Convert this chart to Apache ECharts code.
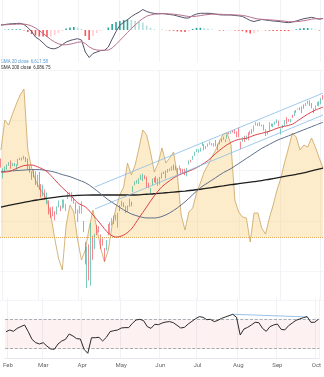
<!DOCTYPE html>
<html><head><meta charset="utf-8">
<script src="https://cdn.jsdelivr.net/npm/echarts@6/dist/echarts.min.js"></script>
<style>html,body{margin:0;padding:0;background:#fff}#c{width:324px;height:377px}</style>
</head><body><div id="c"></div>
<script>
// ---- categories: trading days ----
const holidays=['2025-02-17','2025-04-18','2025-05-26','2025-06-19','2025-07-04','2025-09-01'];
const dates=[];
for(let t=Date.UTC(2025,0,31);t<=Date.UTC(2025,9,2);t+=86400000){
  const d=new Date(t),wd=d.getUTCDay(),s=d.toISOString().slice(0,10);
  if(wd===0||wd===6||holidays.includes(s))continue;dates.push(s);
}
const monthNames=['Jan','Feb','Mar','Apr','May','Jun','Jul','Aug','Sep','Oct','Nov','Dec'];

// ---- price candles ----
const open=[6081,5969,5990,6020,6072,6083,6047,6050,6026,6060,6115,6122,6117,6134,6115,6027,5983,5971,5981,5857,
5968,5812,5782,5785,5726,5705,5604,5624,5595,5564,5635,5653,5632,5646,5631,5718,5771,5771,5696,5679,5528,
5597,5580,5492,5293,4953,5194,4966,5353,5256,5441,5411,5335,5306,5232,5207,5395,5381,5489,5529,5509,5499,
5626,5645,5655,5605,5615,5663,5680,5808,5854,5881,5869,5930,5903,5945,5915,5842,5781,5855,5926,5940,5903,
5896,5939,5978,5985,5987,6004,6010,6049,6009,6000,6005,6013,5988,6005,5970,6062,6105,6114,6151,6194,
6187,6194,6249,6259,6237,6243,6266,6256,6255,6295,6249,6264,6308,6305,6307,6327,6367,6370,6397,6404,6374,6427,
6271,6287,6337,6309,6375,6356,6389,6397,6461,6455,6478,6445,6450,6410,6389,6386,6458,6438,6458,6487,6495,
6401,6445,6457,6531,6499,6497,6547,6546,6592,6604,6623,6609,6642,6649,6661,6696,6669,6611,6614,6661,6658,
6665,6732];
const high=[6120,6022,6042,6062,6084,6101,6073,6076,6063,6116,6127,6130,6147,6134,6120,6044,5993,6010,5994,5959,
5987,5866,5860,5812,5783,5705,5636,5642,5598,5645,5704,5653,5715,5711,5670,5775,5786,5784,5732,5685,5615,
5651,5695,5500,5293,5246,5268,5482,5353,5374,5460,5450,5367,5328,5232,5310,5470,5489,5528,5554,5563,5581,
5658,5700,5684,5649,5654,5721,5691,5845,5893,5906,5924,5959,5969,5954,5939,5878,5829,5922,5930,5944,5923,
5937,5981,5990,5999,6016,6022,6043,6060,6046,6026,6051,6024,6018,6019,6026,6101,6108,6146,6187,6215,
6211,6228,6285,6262,6243,6269,6291,6273,6272,6303,6267,6299,6316,6336,6310,6359,6381,6390,6402,6410,6389,6428,
6288,6330,6345,6349,6380,6395,6410,6447,6481,6473,6481,6457,6457,6410,6393,6481,6467,6466,6486,6508,6495,
6417,6454,6502,6532,6512,6513,6555,6593,6601,6617,6627,6638,6657,6672,6694,6697,6670,6616,6647,6680,6689,
6718,6750];
const low=[6030,5923,5985,6007,6047,6019,6045,6043,6004,6051,6104,6100,6111,6085,6008,5978,5909,5932,5858,5838,
5810,5733,5744,5711,5667,5565,5529,5547,5505,5564,5633,5597,5622,5632,5598,5718,5764,5695,5671,5572,5489,
5574,5572,5391,5069,4835,4910,4857,5115,5221,5359,5387,5221,5255,5102,5207,5359,5371,5455,5468,5505,5434,
5597,5645,5637,5579,5589,5640,5646,5786,5853,5871,5867,5907,5895,5915,5830,5826,5768,5854,5883,5875,5849,
5862,5921,5966,5921,5979,5995,6000,6003,6004,5963,6005,5970,5972,5953,5943,6059,6081,6107,6146,6183,
6177,6188,6245,6202,6215,6235,6257,6249,6238,6241,6201,6260,6282,6304,6282,6318,6361,6365,6376,6365,6330,6332,
6212,6287,6285,6303,6299,6356,6364,6386,6447,6441,6442,6436,6398,6343,6360,6385,6439,6430,6455,6470,6441,
6360,6419,6445,6460,6484,6477,6522,6540,6573,6604,6599,6570,6613,6640,6656,6641,6618,6570,6603,6642,6638,
6657,6703];
const close=[6041,5995,6038,6062,6084,6026,6066,6069,6052,6115,6115,6130,6144,6118,6013,5983,5955,5956,5862,5955,
5850,5778,5843,5739,5770,5615,5572,5599,5522,5639,5675,5615,5675,5663,5668,5768,5777,5712,5693,5581,5612,
5633,5671,5397,5074,5062,4983,5457,5268,5363,5406,5397,5276,5283,5158,5288,5376,5485,5525,5529,5561,5569,
5604,5687,5650,5607,5631,5664,5660,5844,5887,5893,5917,5958,5964,5941,5845,5842,5803,5922,5889,5912,5912,
5936,5970,5971,5939,6000,6006,6039,6022,6045,5977,6033,5983,5981,5968,6025,6092,6092,6141,6173,6205,
6198,6227,6279,6230,6226,6263,6280,6260,6269,6244,6264,6297,6297,6306,6310,6359,6363,6389,6390,6371,6363,6339,
6238,6330,6299,6345,6340,6389,6374,6446,6467,6469,6450,6449,6411,6396,6370,6467,6439,6466,6481,6502,6460,
6416,6448,6502,6482,6495,6513,6532,6588,6584,6615,6607,6600,6632,6664,6694,6657,6638,6605,6644,6661,6689,
6711,6715];

// ---- moving averages (every 4th session) ----
const ma20=[5985,5990,6020,6050,6055,6030,5990,5910,5830,5760,5680,5640,5560,5470,5380,5340,5360,5420,5530,5640,
5750,5840,5900,5950,5980,6010,6050,6100,6170,6230,6280,6310,6320,6350,6370,6390,6420,6440,6460,6510,6560,6600,6630];
const ma50=[5990,5995,6000,6005,6010,6010,6000,5985,5960,5940,5910,5880,5830,5770,5710,5660,5610,5570,5545,5530,
5530,5545,5580,5630,5690,5760,5830,5880,5930,5980,6020,6070,6120,6170,6220,6260,6300,6330,6360,6390,6420,6450,6480];
const ma200=[5638,5654,5670,5685,5700,5712,5724,5735,5745,5750,5754,5757,5758,5758,5758,5758,5758,5758,5760,5765,
5770,5777,5783,5790,5797,5805,5815,5826,5837,5848,5860,5870,5880,5890,5900,5914,5928,5942,5956,5969,5987,6006,6025];
// channel trend lines: [session index, price]
const chanUpper=[[49,5837],[168,6769]];
const chanLower=[[49,5619],[168,6551]];

// ---- oscillator overlay (every 2nd session) ----
const osc=[87,117,112,123,133,142,148,87,69,57,49,44,37,22,-1,-21,-33,12,32,25,-3,-23,-13,9,27,9,-11,-25,-13,12,
29,42,50,74,62,72,89,107,102,85,65,74,89,74,79,85,62,22,7,25,29,44,54,65,72,80,87,96,103,104,
92,37,25,20,19,-5,24,24,9,3,19,32,47,59,75,89,104,100,87,92,90,99,90,79,69];

// ---- MACD (every 2nd session) ----
const macd=[5,5.5,6,6.3,6.5,6.7,5.5,2.5,-1.5,-7,-9.5,-13,-16.7,-18.5,-18.8,-17.3,-14.7,-12,-10.5,-9.5,
-8.7,-10,-22,-27.5,-23.5,-22,-20.6,-20.3,-17,-9,-1.5,4.7,7.7,10.3,13.3,15.8,17.8,20.5,18.5,17.3,
16.6,16.2,16.5,16,15.5,15,14,13,12,12,14.5,16,16.7,16.7,16.7,16.5,15.8,15.2,15,15,
15,14.5,14.2,13.5,11.5,9.5,8.5,9.5,10.5,10,9.5,9,8.7,8.2,7.7,7.3,8,9,10.2,11.3,12,12.7,11.8,10.8,11.5];
const signal=[5,5.2,5.4,5.6,5.8,5.9,5.9,5.3,4,2,-0.5,-3.5,-6.5,-9.5,-12,-13.8,-14.8,-14.8,-14.2,-13.3,
-12.3,-11.8,-13.5,-16.8,-19,-20,-20.3,-20.3,-20,-18,-14.5,-10.5,-6.5,-2.5,1.5,5,8.5,11.5,13.8,15,
15.8,16.2,16.3,16.3,16.1,15.8,15.4,14.8,14.1,13.5,13.4,13.8,14.4,15,15.5,15.8,15.9,15.8,15.6,15.4,
15.3,15.1,14.9,14.6,13.9,12.9,11.8,11,10.7,10.5,10.2,9.9,9.6,9.2,8.8,8.4,8.2,8.3,8.7,9.3,10,10.8,11.2,11.3,11.4];
const hist=[0,0.3,0.6,0.7,0.7,0.8,-0.4,-2,-4,-5.5,-6.5,-6.5,-7,-6.5,-5,-3,-1,1.5,2.5,3,
2.5,1,-6,-10,-6,-3,-1,0,2.5,6,8,9,10,10.5,10,9,8,7.5,4.5,2.3,
0.8,0,0.2,-0.3,-0.6,-0.8,-1.4,-1.8,-2,-1.5,1,2.2,2.3,1.7,1.2,0.7,0,-0.6,-0.6,-0.4,
-0.3,-0.6,-0.7,-1.1,-2.4,-3.4,-3.3,-1.5,-0.2,-0.5,-0.7,-0.9,-0.9,-1,-1.1,-1.1,-0.2,0.7,1.5,2,2,1.9,0.6,-0.5,0.1];

// ---- RSI (every 2nd session) ----
const rsi=[53.4,55.7,53.9,58,60.4,62.7,53.4,42.8,38.2,36.4,38.2,33.6,29.5,29,36.4,40.5,42.8,50.2,47.5,43.8,
43.3,29,23.5,45,45.1,45.6,40.5,45.6,53.4,54.8,55.7,58.5,59,59,65,69.6,70.5,68.7,60.4,58,
63.6,63.1,65.4,66.8,67.3,65.9,62.2,58.5,59.4,64,67.7,71.4,74.2,73.3,70,70.5,67.3,69.1,71.9,73.7,
75.6,77.4,73.3,48.8,57.1,59.4,62.7,66.4,65.9,58,53.9,60.4,62.7,64,56.7,55.8,61.7,65.4,69.1,71,72.8,74.2,66.4,66.4,70.5];
const rsiTrend=[[122,77.5],[162,73.8]];

// ---- layout ----
const G0={top:0,height:62}, G1={top:70,height:230}, G2={top:298,height:60};
const PRICE_MIN=4716, PRICE_MAX=6998, OSC_MIN=-63, OSC_MAX=167;
const oscZeroY=G1.top+OSC_MAX/(OSC_MAX-OSC_MIN)*G1.height;

const every=(arr,step)=>arr.map((v,j)=>[dates[j*step],v]);
const isMonthStart=i=>i>0&&dates[i].slice(5,7)!==dates[i-1].slice(5,7);
const gridColor='#f0f2f6';
function xAx(gi,showLabel){
  return {type:'category',gridIndex:gi,data:dates,boundaryGap:true,
    axisLine:{show:showLabel,lineStyle:{color:'#e6e8ee'}},axisTick:{show:false},
    axisLabel:{show:showLabel,interval:i=>isMonthStart(i),formatter:v=>monthNames[+v.slice(5,7)-1],
      fontSize:6,color:'#666',margin:4,fontFamily:'Roboto'},
    splitLine:{show:true,interval:i=>isMonthStart(i),lineStyle:{color:gridColor,width:1}}};
}
const candles=dates.map((d,i)=>[open[i],close[i],low[i],high[i]]);
const histData=hist.map((v,j)=>{
  const prev=j>0?hist[j-1]:0;
  const c=v>=0?(v>=prev?'#26a69a':'#b2dfdb'):(v<=prev?'#ff5252':'#ffcdd2');
  return {value:[dates[j*2],v],itemStyle:{color:c}};
});
const lineS=(name,data,color,w,xi,yi,extra)=>Object.assign({name,type:'line',data,xAxisIndex:xi,yAxisIndex:yi,
  showSymbol:false,symbol:'none',lineStyle:{color,width:w},silent:true,animation:false},extra||{});
const hiddenY=(gi,min,max,split)=>({gridIndex:gi,type:'value',min,max,axisLine:{show:false},axisLabel:{show:false},
  axisTick:{show:false},splitLine:{show:!!split,lineStyle:{color:'#f4f5f8'}}});

const chart=echarts.init(document.getElementById('c'),null,{renderer:'canvas'});
chart.setOption({
  animation:false,backgroundColor:'#ffffff',
  grid:[{left:0,right:0,top:G0.top,height:G0.height},{left:0,right:0,top:G1.top,height:G1.height},{left:0,right:0,top:G2.top,height:G2.height}],
  xAxis:[xAx(0,false),xAx(1,false),xAx(2,true)],
  yAxis:[hiddenY(0,-32,30,false),hiddenY(1,PRICE_MIN,PRICE_MAX,true),hiddenY(1,OSC_MIN,OSC_MAX,false),hiddenY(2,17,100,false)],
  graphic:[
    {type:'text',left:1,top:59,style:{text:'SMA 20 close  6,621.58',fontSize:4.5,fill:'#5b9bd5',fontFamily:'Roboto'}},
    {type:'text',left:1,top:65,style:{text:'SMA 200 close  6,086.75',fontSize:4.5,fill:'#333',fontFamily:'Roboto'}}
  ],
  series:[
    {type:'bar',xAxisIndex:0,yAxisIndex:0,data:histData,barWidth:1.6,silent:true,z:2},
    lineS('MACD',every(macd,2),'#54546a',1,0,0,{z:3}),
    lineS('Signal',every(signal,2),'#b7738e',1,0,0,{z:3}),
    lineS('Osc',every(osc,2),'#c9a35e',0.8,1,2,{z:1,
      areaStyle:{origin:0,color:{type:'linear',global:true,x:0,y:0,x2:0,y2:377,colorStops:[
        {offset:0,color:'rgba(250,210,130,0.6)'},{offset:oscZeroY/377,color:'rgba(250,210,130,0.6)'},
        {offset:oscZeroY/377,color:'rgba(250,210,130,0.0)'},{offset:1,color:'rgba(250,210,130,0.0)'}]}},
      markLine:{silent:true,symbol:'none',label:{show:false},lineStyle:{color:'#e0a858',type:'dotted',width:1},data:[{yAxis:0}]}}),
    {type:'candlestick',xAxisIndex:1,yAxisIndex:1,data:candles,barWidth:1.2,silent:true,z:4,
      itemStyle:{color:'#22ab94',color0:'#f23645',borderColor:'#22ab94',borderColor0:'#f23645',borderWidth:0.6}},
    lineS('MA200',every(ma200,4),'#1e1e1e',1.3,1,1,{z:5,smooth:0.3}),
    lineS('MA50',every(ma50,4),'#5f6f8c',1,1,1,{z:5,smooth:0.3}),
    lineS('MA20',every(ma20,4),'#d8434b',1,1,1,{z:5,smooth:0.3}),
    lineS('ChanU',chanUpper.map(p=>[dates[p[0]],p[1]]),'#86bde8',0.8,1,1,{z:5}),
    lineS('ChanL',chanLower.map(p=>[dates[p[0]],p[1]]),'#86bde8',0.8,1,1,{z:5}),
    lineS('RSI',every(rsi,2),'#2a2a2a',1,2,3,{z:5,
      markArea:{silent:true,itemStyle:{color:'rgba(242,54,69,0.07)'},data:[[{yAxis:30},{yAxis:70}]]},
      markLine:{silent:true,symbol:'none',label:{show:false},lineStyle:{color:'#9598a1',type:'dashed',width:0.8},data:[{yAxis:70},{yAxis:30}]}}),
    lineS('RSItrend',rsiTrend.map(p=>[dates[p[0]],p[1]]),'#7fb3e0',0.8,2,3,{z:4})
  ]
});
</script></body></html>
